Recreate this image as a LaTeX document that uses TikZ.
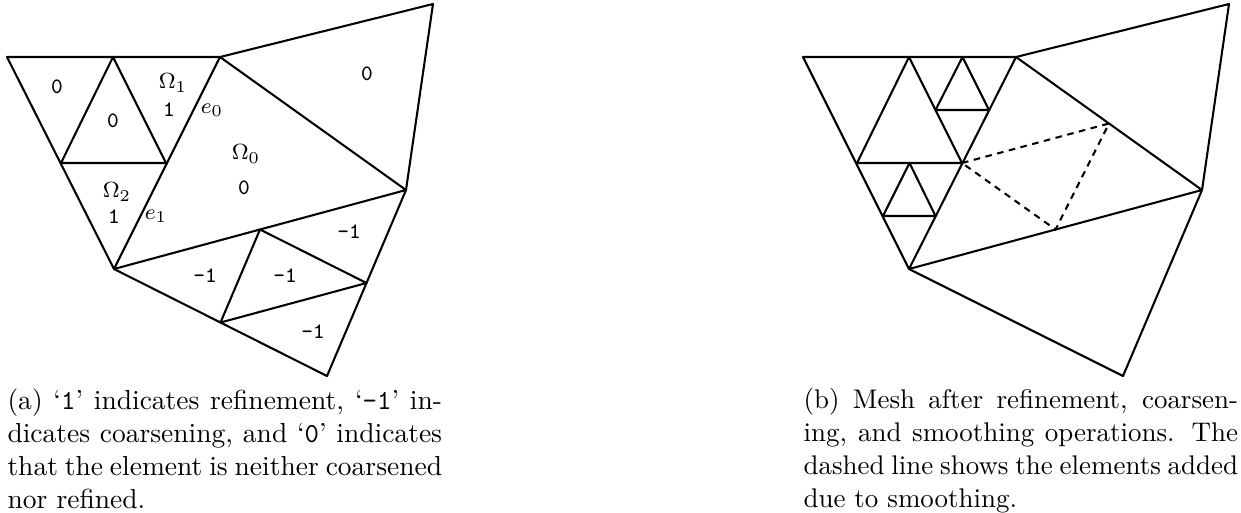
\documentclass[tikz,border=0pt]{standalone}
\usetikzlibrary{calc}

\hyphenation{coarsen-ing}

\tikzset{
  mesh/.style={line width=0.75pt, line join=round},
  added/.style={line width=0.75pt, dash pattern=on 2.4pt off 2pt},
  flag/.style={font=\footnotesize\ttfamily, inner sep=0pt},
  tag/.style={font=\footnotesize, inner sep=0pt},
  subcap/.style={anchor=north west, inner sep=0pt, text width=158pt, align=justify, font=\normalsize}
}

\begin{document}
\begin{tikzpicture}[x=0.3636pt,y=-0.3636pt]
  \useasboundingbox (0,0) rectangle (1241,512);

  % (a) mesh with flags
  \coordinate (lA) at (7,57);
  \coordinate (lB) at (113,57);
  \coordinate (lC) at (220,57);
  \coordinate (lD) at (433,4);
  \coordinate (lE) at (61,163);
  \coordinate (lF) at (166,163);
  \coordinate (lG) at (114,269);
  \coordinate (lH) at (406,190);
  \coordinate (lI) at ($(lG)!0.5!(lH)$);
  \coordinate (lL) at (327,376);
  \coordinate (lJ) at ($(lH)!0.5!(lL)$);
  \coordinate (lK) at ($(lG)!0.5!(lL)$);

  \draw[mesh] (lA) -- (lC) -- (lD) -- (lH) -- (lL) -- (lG) -- cycle;
  \draw[mesh] (lC) -- (lG) -- (lH) -- cycle;
  \draw[mesh] (lB) -- (lE) -- (lF) -- cycle;
  \draw[mesh] (lI) -- (lJ) -- (lK) -- cycle;

  \node[flag] (fa) at (57,87) {0};
  \node[flag] (fb) at (113,121) {0};
  \node[tag] (om1) at (173,83) {$\Omega_1$};
  \node[flag] (fc) at (169,110) {1};
  \node[tag] (e0) at (212,110) {$e_0$};
  \node[tag] (om0) at (246,154) {$\Omega_0$};
  \node[flag] (fd) at (244,188) {0};
  \node[tag] (om2) at (117,192) {$\Omega_2$};
  \node[flag] (fe) at (114,217) {1};
  \node[tag] (e1) at (156,216) {$e_1$};
  \node[flag] (ff) at (367,74) {0};
  \node[flag] (fg) at (349,232) {-1};
  \node[flag] (fh) at (205,276) {-1};
  \node[flag] (fi) at (285,276) {-1};
  \node[flag] (fj) at (313,332) {-1};

  \node[subcap] (capa) at (7,388) {(a) `\texttt{1}' indicates refinement, `\texttt{-1}' indicates coarsening, and `\texttt{0}' indicates that the element is neither coarsened nor refined.};

  % (b) mesh after adaptation
  \coordinate (rA) at (803,57);
  \coordinate (rB) at (909,57);
  \coordinate (rD) at (1016,57);
  \coordinate (rE) at (1229,4);
  \coordinate (rF) at (857,163);
  \coordinate (rP) at (962,163);
  \coordinate (rG) at (909,269);
  \coordinate (rH) at (1202,190);
  \coordinate (rL) at (1123,376);

  \coordinate (rC) at ($(rB)!0.5!(rD)$);
  \coordinate (rM) at ($(rB)!0.5!(rP)$);
  \coordinate (rN) at ($(rD)!0.5!(rP)$);
  \coordinate (rQ) at ($(rF)!0.5!(rP)$);
  \coordinate (rS) at ($(rF)!0.5!(rG)$);
  \coordinate (rT) at ($(rP)!0.5!(rG)$);
  \coordinate (rU) at ($(rD)!0.5!(rH)$);
  \coordinate (rV) at ($(rG)!0.5!(rH)$);

  \draw[mesh] (rA) -- (rD) -- (rE) -- (rH) -- (rL) -- (rG) -- cycle;
  \draw[mesh] (rD) -- (rG) -- (rH) -- cycle;
  \draw[mesh] (rB) -- (rF) -- (rP) -- cycle;
  \draw[mesh] (rC) -- (rM) -- (rN) -- cycle;
  \draw[mesh] (rQ) -- (rS) -- (rT) -- cycle;
  \draw[added] (rP) -- (rU) -- (rV) -- cycle;

  \node[subcap, font=\fontsize{9.8pt}{12pt}\selectfont] (capb) at (803,388) {(b) Mesh after refinement, coarsening, and smoothing operations. The\linebreak dashed line shows the elements added\linebreak due to smoothing.};
\end{tikzpicture}
\end{document}
